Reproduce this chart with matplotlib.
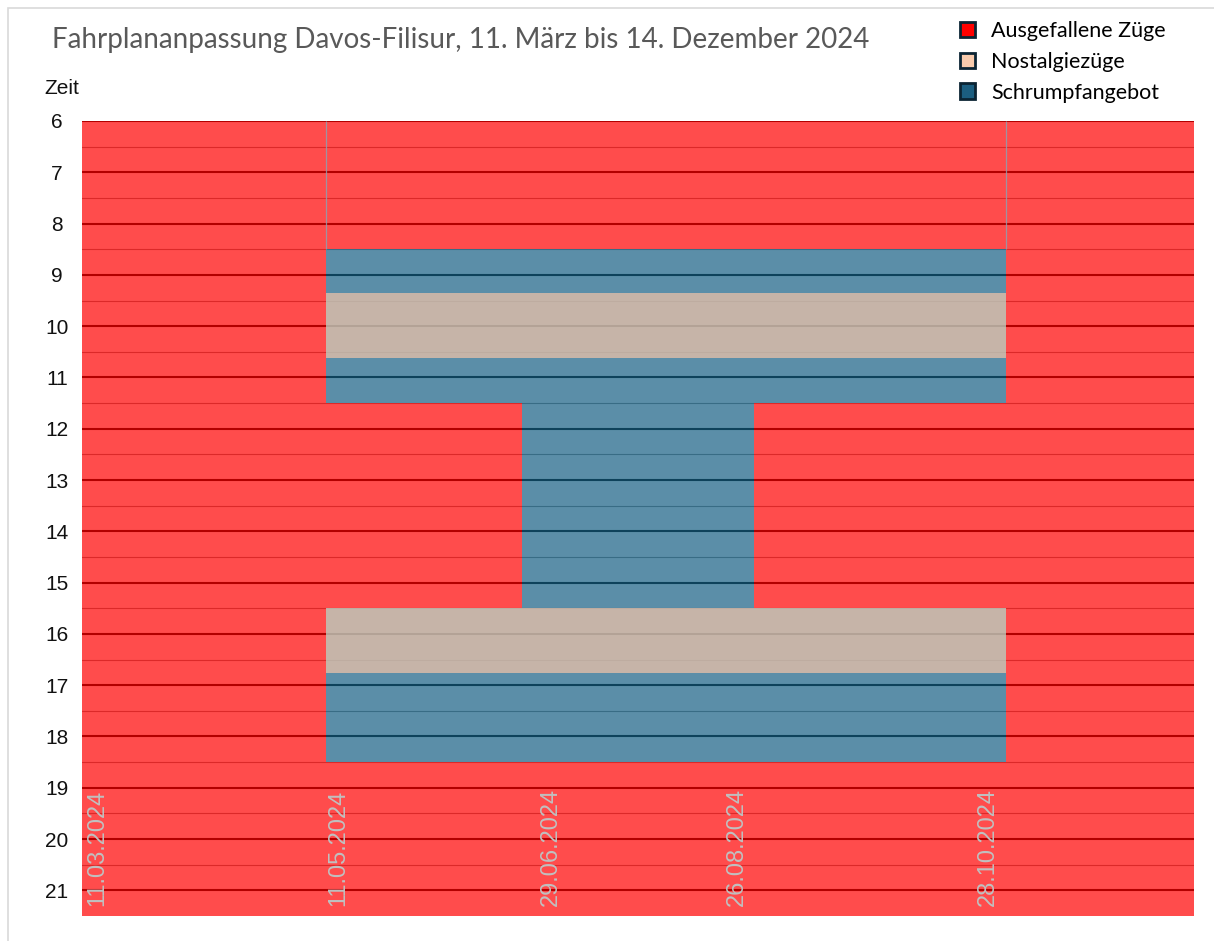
import numpy as np
import matplotlib
matplotlib.use('Agg')
import matplotlib.pyplot as plt
import matplotlib.dates as mdates
from matplotlib.patches import Patch, Rectangle
from datetime import date

# Segment boundaries of the timetable (x axis)
grenzen = [date(2024, 3, 11), date(2024, 5, 11), date(2024, 6, 29),
           date(2024, 8, 26), date(2024, 10, 28), date(2024, 12, 14)]

# Stacked bands per segment, from 6 Uhr downwards (hours)
ausfall_frueh = [15.5, 2.5, 2.5, 2.5, 15.5]
schrumpf_1 = [0, 0.85, 0.85, 0.85, 0]
nostalgie_1 = [0, 1.27, 1.27, 1.27, 0]
schrumpf_2 = [0, 0.88, 4.88, 0.88, 0]
ausfall_mittag = [0, 4.0, 0, 4.0, 0]
nostalgie_2 = [0, 1.27, 1.27, 1.27, 0]
schrumpf_3 = [0, 1.73, 1.73, 1.73, 0]
ausfall_abend = [0, 3.0, 3.0, 3.0, 0]

baender = [
    (ausfall_frueh, 'ausfall'),
    (schrumpf_1, 'schrumpf'),
    (nostalgie_1, 'nostalgie'),
    (schrumpf_2, 'schrumpf'),
    (ausfall_mittag, 'ausfall'),
    (nostalgie_2, 'nostalgie'),
    (schrumpf_3, 'schrumpf'),
    (ausfall_abend, 'ausfall'),
]

datum_labels = ['11.03.2024', '11.05.2024', '29.06.2024', '26.08.2024', '28.10.2024']
datum_label_pos = [date(2024, 3, 11), date(2024, 5, 11), date(2024, 6, 29),
                   date(2024, 8, 26), date(2024, 10, 28)]
label_offset_px = [15, 12, 29, -17, -18]

stunden = list(range(6, 22))
legend_labels = ['Ausgefallene Züge', 'Nostalgiezüge', 'Schrumpfangebot']

# styles
farben = {'ausfall': ('#FF0000', 0.70),
          'schrumpf': ('#155F83', 0.70),
          'nostalgie': ('#C2AFA2', 0.93)}
legend_farben = ['#FF0000', '#F8CBAD', '#1B5E80']

fig = plt.figure(figsize=(12.14, 9.41), dpi=100)
ax = fig.add_axes([82 / 1214, 1 - 916 / 941, (1194 - 82) / 1214, (916 - 121) / 941])

x = mdates.date2num(grenzen)
unten = np.full(len(x), 6.0)
for werte, art in baender:
    w = np.append(werte, werte[-1])
    oben = unten + w
    farbe, alpha = farben[art]
    ax.fill_between(x, unten, oben, step='post', color=farbe, alpha=alpha,
                    linewidth=0, zorder=2)
    unten = oben

# thin edges of the area chart at start/end of the reduced timetable
ax.vlines([x[1], x[4]], 6, 6 + ausfall_frueh[1], color='#8AA3B5', lw=0.9,
          alpha=0.8, zorder=3)

ax.set_xlim(x[0], x[-1])
ax.set_ylim(21.5, 6)
ax.set_yticks(stunden)
ax.set_yticks(np.arange(6.5, 21.5, 1), minor=True)
ax.grid(axis='y', which='major', color='black', lw=1.5, zorder=1)
ax.grid(axis='y', which='minor', color='#8C8C8C', lw=0.8, zorder=1)
ax.set_axisbelow(True)
ax.set_xticks([])
ax.tick_params(axis='y', which='both', length=0, pad=18)
for lab in ax.get_yticklabels():
    lab.set_fontfamily(['Liberation Sans', 'DejaVu Sans'])
    lab.set_fontsize(15)
    lab.set_horizontalalignment('center')
    lab.set_color('#111111')
for s in ax.spines.values():
    s.set_visible(False)

# date labels inside the plot
for lbl, d, off in zip(datum_labels, datum_label_pos, label_offset_px):
    xpos = mdates.date2num(d) + off * (x[-1] - x[0]) / (1194 - 82)
    ax.text(xpos, 0.012, lbl, transform=ax.get_xaxis_transform(),
            rotation=90, ha='center', va='bottom', fontsize=17,
            family=['Liberation Sans', 'DejaVu Sans'], color='#C0C0C0', zorder=5)

fig.text(52 / 1214, 1 - 40 / 941,
         'Fahrplananpassung Davos-Filisur, 11. März bis 14. Dezember 2024',
         fontsize=20, color='#595959', va='center', ha='left',
         family=['Lato', 'DejaVu Sans'])
fig.text(62 / 1214, 1 - 88 / 941, 'Zeit', fontsize=15, ha='center', va='center',
         family=['Liberation Sans', 'DejaVu Sans'], color='#111111')

handles = [Patch(facecolor=c, edgecolor='#0B2433', lw=2) for c in legend_farben]
fig.legend(handles, legend_labels, loc='upper left',
           bbox_to_anchor=(960 / 1214, 1 - 21 / 941), frameon=False,
           prop={'family': ['Lato', 'DejaVu Sans'], 'size': 15.5},
           handlelength=0.7, handleheight=0.7, handletextpad=0.75,
           labelspacing=0.5, borderpad=0, borderaxespad=0)

# chart frame
fig.patches.append(Rectangle((8 / 1214, -0.1), 1.2, 1 - 8 / 941 + 0.1,
                             transform=fig.transFigure, fill=False,
                             edgecolor='#D9D9D9', lw=1.2))

fig.savefig('out.png', dpi=100)
